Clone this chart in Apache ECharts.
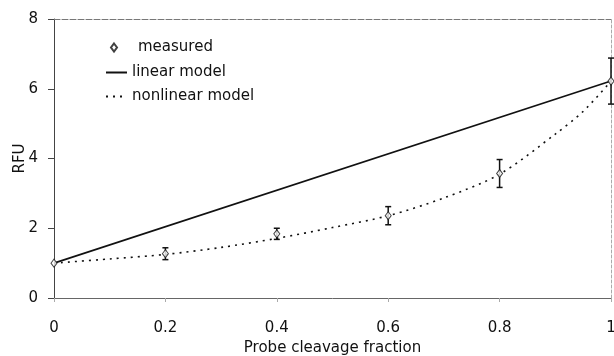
<!DOCTYPE html>
<html>
<head>
<meta charset="utf-8">
<script src="https://cdn.jsdelivr.net/npm/echarts@6/dist/echarts.min.js"></script>
<style>
  html, body { margin: 0; padding: 0; background: #fff; }
  #main { width: 614px; height: 356px; }
</style>
</head>
<body>
<div id="main"></div>
<script>
// measured points with error bars
var fractions = [0, 0.2, 0.4, 0.6, 0.8, 1];
var measured = [1.0, 1.27, 1.84, 2.36, 3.57, 6.22];
var errors = [0, 0.17, 0.16, 0.26, 0.4, 0.66];

// linear model
var linearX = [0, 1];
var linearY = [1.0, 6.22];

// nonlinear model
var nonlinX = [0, 0.1, 0.2, 0.3, 0.4, 0.5, 0.6, 0.7, 0.8, 0.9, 0.95, 1];
var nonlinY = [1.0, 1.12, 1.25, 1.45, 1.71, 2.02, 2.36, 2.87, 3.55, 4.7, 5.35, 6.22];

var font = "'DejaVu Sans', sans-serif";

function pairs(xs, ys) {
  return xs.map(function (x, i) { return [x, ys[i]]; });
}

var chartDom = document.getElementById("main");
var myChart = echarts.init(chartDom);

var option = {
  animation: false,
  textStyle: { fontFamily: font },
  grid: { left: 54, right: 3, top: 19, bottom: 58, outerBoundsMode: "none", containLabel: false },
  legend: [
    {
      orient: "vertical",
      left: 110,
      top: 40,
      padding: 0,
      itemWidth: 6,
      itemHeight: 8,
      textStyle: { fontFamily: font, fontSize: 15, color: "#111", padding: [0, 0, 0, 16] },
      data: ["measured"],
    },
    {
      orient: "vertical",
      left: 105,
      top: 65,
      padding: 0,
      itemWidth: 21,
      itemHeight: 8,
      itemGap: 9,
      textStyle: { fontFamily: font, fontSize: 15, color: "#111" },
      data: [
        { name: "linear model", itemStyle: { opacity: 0 } },
        { name: "nonlinear model", itemStyle: { opacity: 0 } },
      ],
    },
  ],
  xAxis: [
    {
      type: "value",
      min: 0,
      max: 1,
      interval: 0.2,
      name: "Probe cleavage fraction",
      nameLocation: "middle",
      nameGap: 43,
      nameMoveOverlap: false,
      nameTextStyle: { fontSize: 15, color: "#111" },
      axisLine: { onZero: false, lineStyle: { color: "#666", width: 1 } },
      axisTick: { show: true, length: 4, lineStyle: { color: "#aaa" } },
      axisLabel: { fontSize: 15, color: "#111", margin: 23 },
      splitLine: { show: false },
    },
    {
      type: "value",
      position: "top",
      min: 0,
      max: 1,
      axisLine: { show: true, onZero: false, lineStyle: { color: "#777", type: [6, 2] } },
      axisTick: { show: false },
      axisLabel: { show: false },
      splitLine: { show: false },
    },
  ],
  yAxis: [
    {
      type: "value",
      min: 0,
      max: 8,
      interval: 2,
      name: "RFU",
      nameLocation: "middle",
      nameGap: 26,
      nameMoveOverlap: false,
      nameTextStyle: { fontSize: 15, color: "#111" },
      axisLine: { show: true, onZero: false, lineStyle: { color: "#444", width: 1 } },
      axisTick: { show: true, length: 6, lineStyle: { color: "#444" } },
      axisLabel: { fontSize: 15, color: "#111", margin: 16 },
      splitLine: { show: false },
    },
    {
      type: "value",
      position: "right",
      min: 0,
      max: 8,
      axisLine: { show: true, onZero: false, lineStyle: { color: "#aaa", type: [3, 2] } },
      axisTick: { show: false },
      axisLabel: { show: false },
      splitLine: { show: false },
    },
  ],
  series: [
    {
      name: "linear model",
      type: "line",
      data: pairs(linearX, linearY),
      symbol: "none",
      lineStyle: { color: "#111", width: 1.6 },
      itemStyle: { color: "#111" },
      z: 2,
    },
    {
      name: "nonlinear model",
      type: "line",
      data: pairs(nonlinX, nonlinY),
      smooth: 0.3,
      symbol: "none",
      lineStyle: { color: "#111", width: 1.6, type: [2, 5] },
      itemStyle: { color: "#111" },
      z: 2,
    },
    {
      name: "error",
      type: "custom",
      clip: false,
      z: 3,
      data: fractions.map(function (x, i) {
        return [x, measured[i] - errors[i], measured[i] + errors[i]];
      }),
      renderItem: function (params, api) {
        if (api.value(2) - api.value(1) <= 0) return null;
        var lo = api.coord([api.value(0), api.value(1)]);
        var hi = api.coord([api.value(0), api.value(2)]);
        var w = 3;
        var style = { stroke: "#111", lineWidth: 1.5 };
        return {
          type: "group",
          children: [
            { type: "line", shape: { x1: lo[0], y1: lo[1], x2: hi[0], y2: hi[1] }, style: style },
            { type: "line", shape: { x1: lo[0] - w, y1: lo[1], x2: lo[0] + w, y2: lo[1] }, style: style },
            { type: "line", shape: { x1: hi[0] - w, y1: hi[1], x2: hi[0] + w, y2: hi[1] }, style: style },
          ],
        };
      },
    },
    {
      name: "measured",
      type: "scatter",
      data: pairs(fractions, measured),
      symbol: "diamond",
      symbolSize: [6, 8],
      clip: false,
      itemStyle: { color: "#fff", borderColor: "#111", borderWidth: 1 },
      z: 4,
    },
  ],
};

myChart.setOption(option);
</script>
</body>
</html>
